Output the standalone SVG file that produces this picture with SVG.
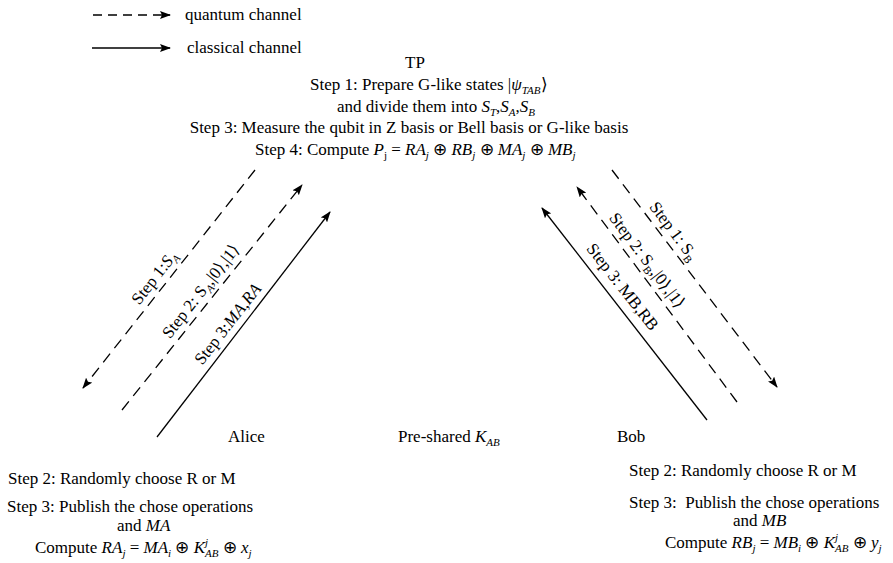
<svg xmlns="http://www.w3.org/2000/svg" width="893" height="563" viewBox="0 0 893 563">
<style>
text{font-family:"Liberation Serif","Times New Roman",serif;font-size:17px;fill:#000}
.i{font-style:italic}
.s{font-size:11px}
.ln{stroke:#000;stroke-width:1.3;fill:none}
.q{stroke-dasharray:11 7}
.lq{stroke-dasharray:9 6}
</style>
<defs>
<marker id="ah" viewBox="0 0 11 8" refX="10" refY="4" markerWidth="11" markerHeight="8" orient="auto" markerUnits="userSpaceOnUse">
<path d="M0,0 L11,4 L0,8 L2,4 z" fill="#000"/>
</marker>
</defs>
<rect width="893" height="563" fill="#fff"/>

<g id="legend">
<line class="ln lq" x1="93" y1="15" x2="170" y2="15" marker-end="url(#ah)"/>
<text x="185" y="20">quantum channel</text>
<line class="ln" x1="92" y1="48" x2="170" y2="48" marker-end="url(#ah)"/>
<text x="187" y="53">classical channel</text>
</g>

<g id="tp">
<text x="415" y="68" text-anchor="middle">TP</text>
<text x="310" y="90">Step 1: Prepare G-like states <tspan>|</tspan><tspan class="i">ψ</tspan><tspan class="i s" dy="4">TAB</tspan><tspan dy="-4">⟩</tspan></text>
<text x="337" y="112">and divide them into <tspan class="i">S</tspan><tspan class="i s" dy="4">T</tspan><tspan dy="-4">,</tspan><tspan class="i">S</tspan><tspan class="i s" dy="4">A</tspan><tspan dy="-4">,</tspan><tspan class="i">S</tspan><tspan class="i s" dy="4">B</tspan></text>
<text x="409" y="133" text-anchor="middle">Step 3: Measure the qubit in Z basis or Bell basis or G-like basis</text>
<text x="255" y="155">Step 4: Compute <tspan class="i">P</tspan><tspan class="s" dy="4">j</tspan><tspan dy="-4"> = </tspan><tspan class="i">RA</tspan><tspan class="i s" dy="4">j</tspan><tspan dy="-4"> ⊕ </tspan><tspan class="i">RB</tspan><tspan class="i s" dy="4">j</tspan><tspan dy="-4"> ⊕ </tspan><tspan class="i">MA</tspan><tspan class="i s" dy="4">j</tspan><tspan dy="-4"> ⊕ </tspan><tspan class="i">MB</tspan><tspan class="i s" dy="4">j</tspan></text>
</g>

<g id="alice">
<text x="228" y="442">Alice</text>
<text x="8" y="484">Step 2: Randomly choose R or M</text>
<text x="7" y="512">Step 3: Publish the chose operations</text>
<text x="117" y="531">and <tspan class="i">MA</tspan></text>
<text x="35" y="553">Compute <tspan class="i">RA</tspan><tspan class="i s" dy="4">j</tspan><tspan dy="-4"> = </tspan><tspan class="i">MA</tspan><tspan class="i s" dy="4">i</tspan><tspan dy="-4"> ⊕ </tspan><tspan class="i">K</tspan><tspan class="i s" dy="-7">j</tspan><tspan class="i s" dx="-3" dy="11">AB</tspan><tspan dy="-4"> ⊕ </tspan><tspan class="i">x</tspan><tspan class="i s" dy="4">j</tspan></text>
</g>

<g id="preshared">
<text x="398" y="442">Pre-shared <tspan class="i">K</tspan><tspan class="i s" dy="4">AB</tspan></text>
</g>

<g id="bob">
<text x="617" y="442">Bob</text>
<text x="629" y="476">Step 2: Randomly choose R or M</text>
<text x="629" y="508">Step 3:&#160; Publish the chose operations</text>
<text x="733" y="526">and <tspan class="i">MB</tspan></text>
<text x="665" y="548">Compute <tspan class="i">RB</tspan><tspan class="i s" dy="4">j</tspan><tspan dy="-4"> = </tspan><tspan class="i">MB</tspan><tspan class="i s" dy="4">i</tspan><tspan dy="-4"> ⊕ </tspan><tspan class="i">K</tspan><tspan class="i s" dy="-7">j</tspan><tspan class="i s" dx="-3" dy="11">AB</tspan><tspan dy="-4"> ⊕ </tspan><tspan class="i">y</tspan><tspan class="i s" dy="4">j</tspan></text>
</g>

<g id="connectors">
<line class="ln q" x1="255" y1="170" x2="83" y2="388" marker-end="url(#ah)"/>
<line class="ln q" x1="122" y1="410" x2="302" y2="185" marker-end="url(#ah)"/>
<line class="ln" x1="157" y1="437" x2="330" y2="212" marker-end="url(#ah)"/>
<line class="ln q" x1="612" y1="170" x2="777" y2="387" marker-end="url(#ah)"/>
<line class="ln q" x1="737" y1="402" x2="577" y2="187" marker-end="url(#ah)"/>
<line class="ln" x1="707" y1="420" x2="542" y2="208" marker-end="url(#ah)"/>
</g>

<g id="labels">
<text transform="translate(158.7,280.9) rotate(-52)" text-anchor="middle">Step 1:<tspan class="i">S</tspan><tspan class="i s" dy="4">A</tspan></text>
<text transform="translate(205.2,294.4) rotate(-52)" text-anchor="middle">Step 2: S<tspan class="i s" dy="4">A</tspan><tspan dy="-4">,|0⟩,|1⟩</tspan></text>
<text transform="translate(232.1,327.5) rotate(-52)" text-anchor="middle">Step 3:<tspan class="i">MA</tspan>,<tspan class="i">RA</tspan></text>
<text transform="translate(669.5,234.5) rotate(53)" text-anchor="middle">Step 1: S<tspan class="s" dy="4">B</tspan></text>
<text transform="translate(643,264) rotate(53)" text-anchor="middle">Step 2: S<tspan class="s" dy="4">B</tspan><tspan dy="-4">,|0⟩,|1⟩</tspan></text>
<text transform="translate(618.3,290.3) rotate(52)" text-anchor="middle">Step 3: MB,RB</text>
</g>
</svg>
